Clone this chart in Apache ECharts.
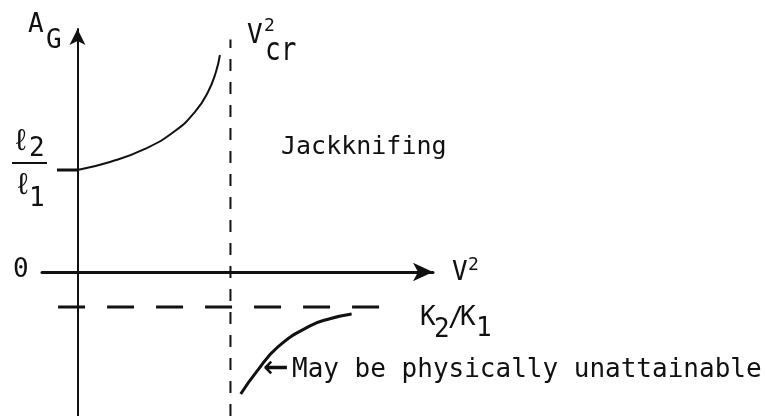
<!DOCTYPE html>
<html>
<head>
<meta charset="utf-8">
<script src="https://cdn.jsdelivr.net/npm/echarts@6/dist/echarts.min.js"></script>
<style>
  html, body { margin: 0; padding: 0; background: #fff; }
  #chart { width: 765px; height: 416px; }
</style>
</head>
<body>
<div id="chart"></div>
<script>
// V^2 is measured in units of V_cr^2, A_G in units of l2/l1.
const criticalV2 = 1;          // V_cr^2
const gainAtRest = 1;          // l2/l1
const gainAsymptote = -0.343;  // K2/K1

// Branch below the critical speed (rises toward V_cr^2)
const belowV2 = [0, 0.212, 0.441, 0.637, 0.768, 0.853, 0.905, 0.931];
const belowAG = [1.0, 1.078, 1.206, 1.382, 1.569, 1.765, 1.961, 2.127];

// Branch above the critical speed (approaches K2/K1 from below)
const aboveV2 = [1.067, 1.171, 1.312, 1.520, 1.650, 1.792];
const aboveAG = [-1.196, -0.977, -0.732, -0.529, -0.458, -0.412];

const xMin = -0.232, xMax = 2.324;
const yMin = -1.412, yMax = 2.382;

const INK = '#111';
const FONT = '"DejaVu Sans Mono", "Liberation Mono", monospace';

const pairs = (xs, ys) => xs.map((x, i) => [x, ys[i]]);

function txt(s, x, y, size, extra) {
  return Object.assign({
    type: 'text', x: x, y: y, silent: true,
    style: { text: s, font: size + 'px ' + FONT, fill: INK, verticalAlign: 'middle' }
  }, extra || {});
}

const chart = echarts.init(document.getElementById('chart'));
chart.setOption({
  animation: false,
  backgroundColor: '#fff',
  grid: { left: 42, right: 332, top: 29, bottom: 0, containLabel: false },
  xAxis: {
    type: 'value', min: xMin, max: xMax,
    splitLine: { show: false }, axisTick: { show: false }, axisLabel: { show: false },
    axisLine: { show: true, onZero: true, symbol: ['none', 'arrow'], symbolSize: [14, 20],
      lineStyle: { color: INK, width: 3 } }
  },
  yAxis: {
    type: 'value', min: yMin, max: yMax,
    splitLine: { show: false }, axisTick: { show: false }, axisLabel: { show: false },
    axisLine: { show: true, onZero: true, symbol: ['none', 'arrow'], symbolSize: [12, 16],
      lineStyle: { color: INK, width: 2 } }
  },
  series: [
    { // critical speed marker
      type: 'line', silent: true, symbol: 'none',
      data: [[criticalV2, yMin], [criticalV2, 2.28]],
      lineStyle: { color: INK, width: 2, type: [12, 11] }
    },
    { // K2/K1 asymptote
      type: 'line', silent: true, symbol: 'none',
      data: [[-0.127, gainAsymptote], [2.088, gainAsymptote]],
      lineStyle: { color: INK, width: 3, type: [27, 22] }
    },
    { // l2/l1 tick on the A_G axis
      type: 'line', silent: true, symbol: 'none',
      data: [[-0.134, gainAtRest], [0, gainAtRest]],
      lineStyle: { color: INK, width: 3 }
    },
    {
      type: 'line', silent: true, symbol: 'none', smooth: 0.5,
      data: pairs(belowV2, belowAG),
      lineStyle: { color: INK, width: 2 }
    },
    {
      type: 'line', silent: true, symbol: 'none', smooth: 0.5,
      data: pairs(aboveV2, aboveAG),
      lineStyle: { color: INK, width: 3 }
    }
  ],
  graphic: [
    // A_G
    txt('A', 28, 25, 26),
    txt('G', 46, 41, 26),
    // l2 / l1
    txt('ℓ', 12, 142, 30),
    txt('2', 29, 149, 26),
    { type: 'line', silent: true, shape: { x1: 12, y1: 163, x2: 47, y2: 163 },
      style: { stroke: INK, lineWidth: 2 } },
    txt('ℓ', 14, 186, 30),
    txt('1', 29, 199, 26),
    // origin
    txt('0', 13, 270, 26),
    // V_cr^2
    txt('V', 247, 36, 26),
    txt('2', 264, 26, 18),
    txt('cr', 265, 52, 26, { scaleY: 1.2, originY: 0 }),
    // V^2 axis label
    txt('V', 452, 273, 26),
    txt('2', 468, 265, 18),
    // K2/K1
    txt('K', 420, 318, 26),
    txt('2', 434, 330, 26),
    txt('/', 448, 319, 26),
    txt('K', 460, 318, 26),
    txt('1', 476, 329, 26),
    // annotations
    txt('Jackknifing', 281, 147, 25),
    txt('←', 263, 368, 42),
    txt('May be physically unattainable', 292, 370, 26)
  ]
});
</script>
</body>
</html>
